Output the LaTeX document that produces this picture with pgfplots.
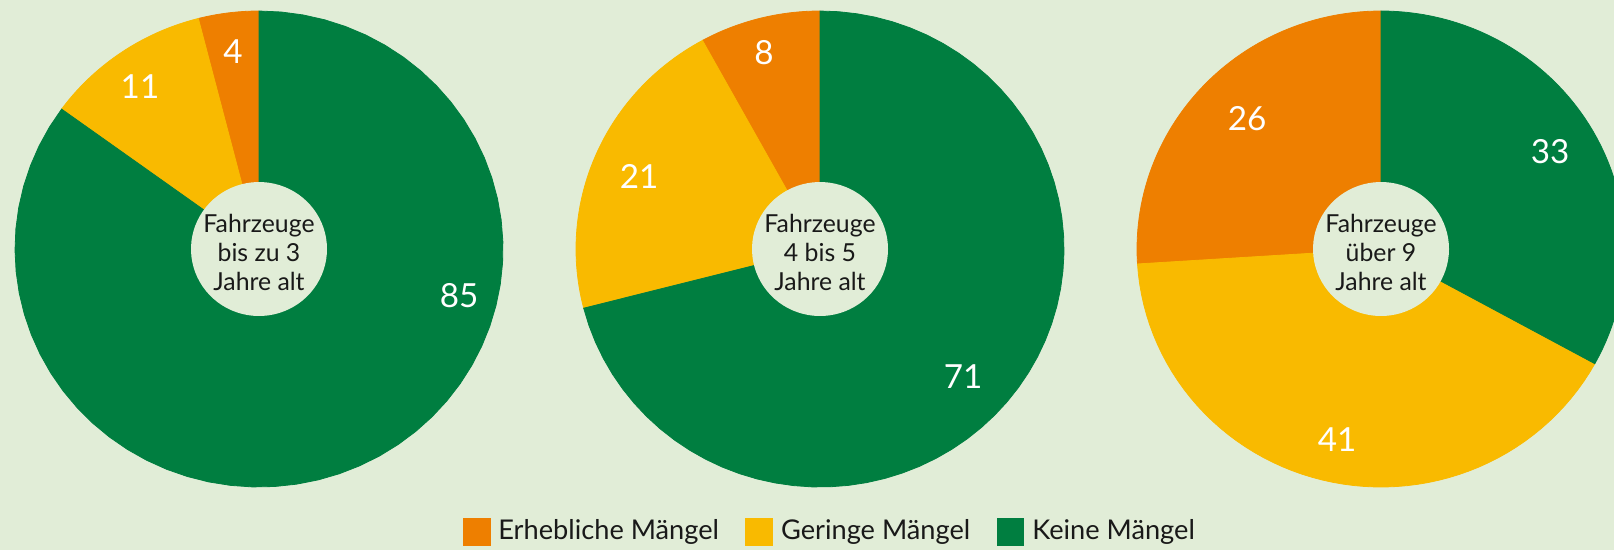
\documentclass[border=0pt]{standalone}
\usepackage{fontspec}
\setmainfont{Lato}
\usepackage{pgfplots}
\pgfplotsset{compat=1.18}

\definecolor{bg}{HTML}{E1EDD7}
\definecolor{cOrange}{HTML}{EE7F00}
\definecolor{cYellow}{HTML}{F9BA00}
\definecolor{cGreen}{HTML}{007E40}

\tikzset{
  num/.style={text=white, font=\fontsize{8.3}{10}\selectfont},
  ctr/.style={align=center, text=black!90, font=\fontsize{6.2}{7.25}\selectfont},
}

% one wedge: cx, cy, start angle, end angle, colour, extra options
\newcommand{\slice}[6]{%
  \edef\temp{\noexpand\addplot[fill=#5, draw=#5, line width=0.2pt,
    domain=#3:#4, samples=60, #6]
    ({#1+244*cos(x)},{#2+238*sin(x)}) -- (axis cs:#1,#2) -- cycle;}%
  \temp}
% a pie: cx, cy, erheblich, gering, keine, extra options
\newcommand{\pie}[6]{%
  \pgfmathsetmacro\aA{90+3.6*#3}%
  \pgfmathsetmacro\aB{\aA+3.6*#4}%
  \pgfmathsetmacro\aC{\aB+3.6*#5}%
  \slice{#1}{#2}{90}{\aA}{cOrange}{#6}%
  \slice{#1}{#2}{\aA}{\aB}{cYellow}{#6}%
  \slice{#1}{#2}{\aB}{\aC}{cGreen}{#6}%
  \addplot[fill=bg, draw=none, domain=0:360, samples=80, forget plot]
    ({#1+68*cos(x)},{#2+67*sin(x)});%
}

\begin{document}
\begin{tikzpicture}
\begin{axis}[
  name=ax,
  x=0.25pt, y=0.25pt,
  xmin=0, xmax=1614, ymin=0, ymax=550,
  hide axis, clip=true,
  legend columns=3,
  legend image code/.code={\fill[#1] (0pt,-3.4pt) rectangle (6.7pt,3.4pt);},
  legend style={at={(0.516,0.0327)}, anchor=center, draw=none, fill=none,
    inner sep=0pt, font=\fontsize{6.8}{8}\selectfont, text=black!90,
    /tikz/every even column/.append style={column sep=4.6pt}},
]
\addplot[fill=bg, draw=none, forget plot] coordinates {(0,0) (1614,0) (1614,550) (0,550)} -- cycle;

\pie{259}{301}{4}{11}{85}{}
\pie{820}{301}{8}{21}{71}{forget plot}
\pie{1381}{301}{26}{41}{33}{forget plot}

\node[num] at (axis cs:233,498) {4};
\node[num] at (axis cs:140,463) {11};
\node[num] at (axis cs:459,254) {85};
\node[num] at (axis cs:764,497) {8};
\node[num] at (axis cs:639,374) {21};
\node[num] at (axis cs:963,173) {71};
\node[num] at (axis cs:1247,431) {26};
\node[num] at (axis cs:1550,398) {33};
\node[num] at (axis cs:1337,110) {41};

\node[ctr] at (axis cs:259,298) {Fahrzeuge\\bis zu 3\\Jahre alt};
\node[ctr] at (axis cs:820,298) {Fahrzeuge\\4 bis 5\\Jahre alt};
\node[ctr] at (axis cs:1381,298) {Fahrzeuge\\über 9\\Jahre alt};

\legend{Erhebliche Mängel, Geringe Mängel, Keine Mängel}
\end{axis}
\pgfresetboundingbox
\path[use as bounding box] (ax.south west) rectangle (ax.north east);
\end{tikzpicture}
\end{document}
